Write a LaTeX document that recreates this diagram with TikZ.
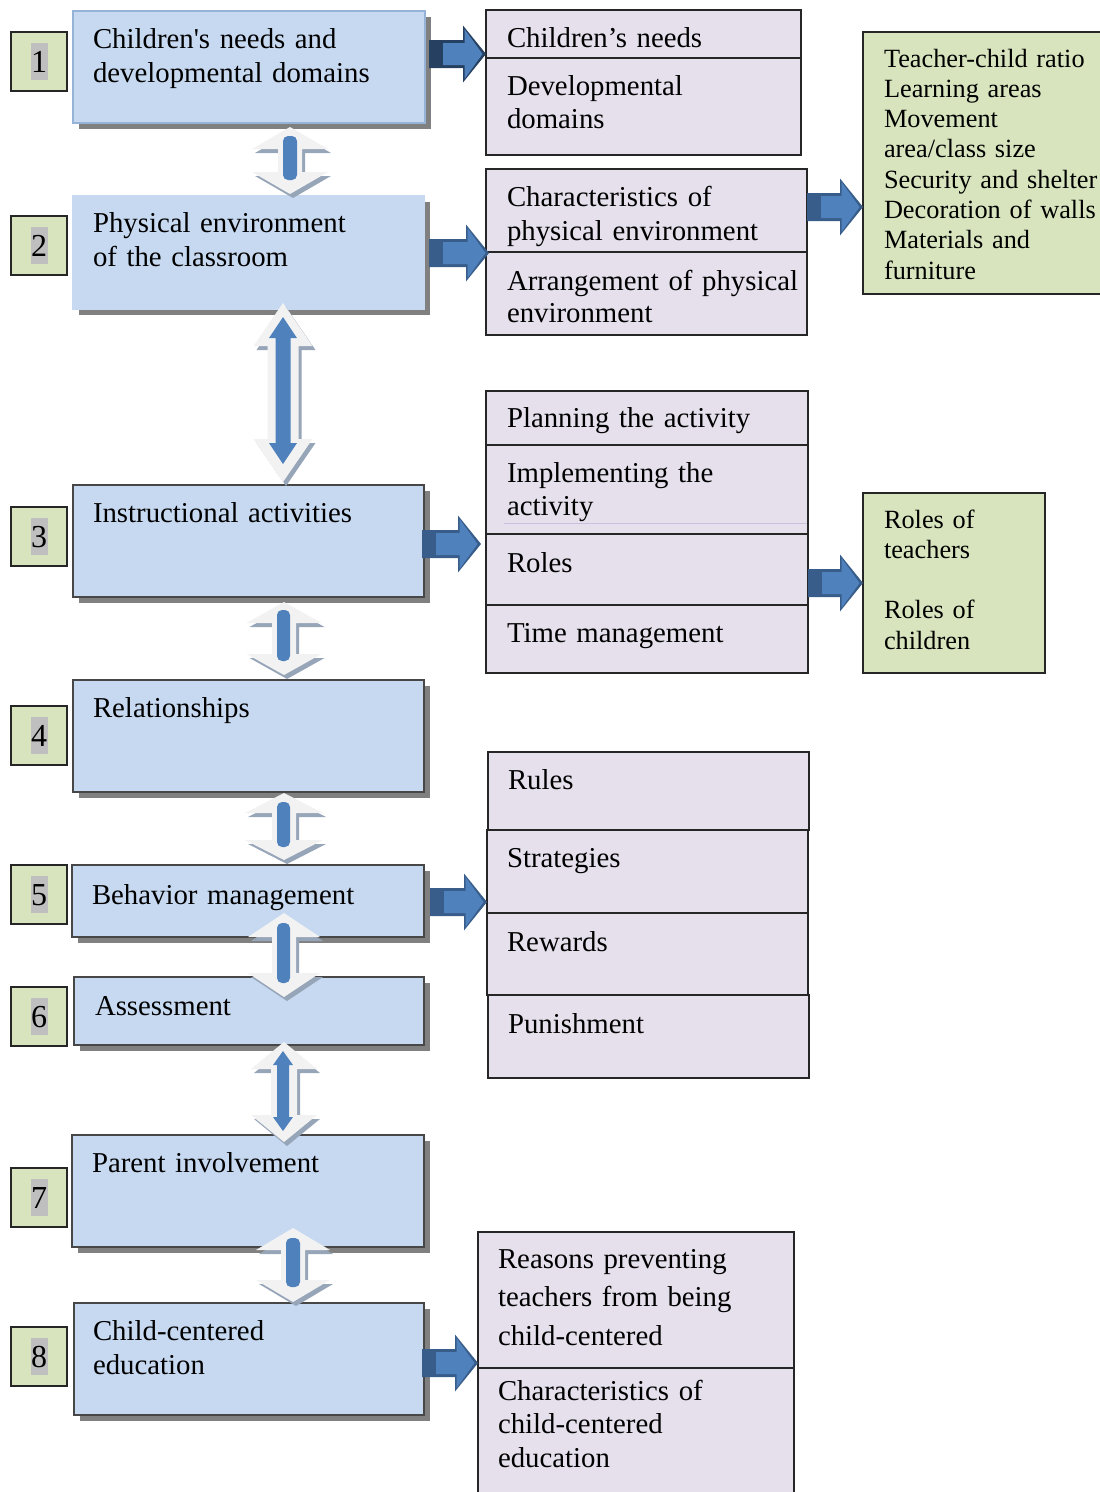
\documentclass[tikz,border=0pt]{standalone}
\usepackage{fontspec}
\setmainfont{Liberation Serif}
\usetikzlibrary{calc}
\definecolor{bluebox}{HTML}{C6D9F1}
\definecolor{blueedge}{HTML}{95B3D7}
\definecolor{shadowgray}{HTML}{808080}
\definecolor{greenbox}{HTML}{D7E4BD}
\definecolor{purplebox}{HTML}{E5E0EC}
\definecolor{digitbg}{HTML}{BFBFBF}
\definecolor{arrowblue}{HTML}{4F81BD}
\definecolor{arrowdark}{HTML}{385D8A}
\definecolor{arrowdarker}{HTML}{254061}
\definecolor{varrowfill}{HTML}{F2F2F2}
\definecolor{varrowshadow}{HTML}{97A5B8}
\definecolor{edgedark}{HTML}{262626}
\definecolor{faintline}{HTML}{C8C0DC}

\newcommand\mainbox[6][]{%
  \fill[shadowgray] ({#3+6},{#4+6}) rectangle ++(#5,#6);
  \node[mainboxst,#1,minimum width=#5pt,minimum height=#6pt] (#2) at (#3,#4) {};
}
\newcommand\numbox[3]{%
  \node[numboxst] (n#1) at (11,#2) {};
  \node[digitst] (d#1) at ($(n#1.center)+(0,10.5)$) {#3};
}
\newcommand\cell[7][purplebox]{%
  \node[cellst,fill=#1,minimum width=#5pt,minimum height=#6pt] (#2) at (#3,#4) {};
}
% vertical double arrow path: cx, top, bottom, head half width, head length, shaft half width
\newcommand\vdpath[6]{({#1},{#2}) -- ({#1+#4},{#2+#5}) -- ({#1+#6},{#2+#5}) -- ({#1+#6},{#3-#5}) -- ({#1+#4},{#3-#5}) -- ({#1},{#3}) -- ({#1-#4},{#3-#5}) -- ({#1-#6},{#3-#5}) -- ({#1-#6},{#2+#5}) -- ({#1-#4},{#2+#5}) -- cycle}
\newcommand\vdarrow[6]{%
  \fill[varrowshadow,shift={(3,4)}] \vdpath{#1}{#2}{#3}{#4}{#5}{#6};
  \fill[varrowfill] \vdpath{#1}{#2}{#3}{#4}{#5}{#6};
}
% fat right arrow: start coord, end coord, y (px), start offset, end offset, dark colour
\newcommand\fatarrow[6]{%
  \fill[#6] let \p1=#1, \p2=#2 in
    ({\x1+(#4)*1pt},{-#3pt+14pt}) -- ({\x2+(#5)*1pt-23pt},{-#3pt+14pt}) --
    ({\x2+(#5)*1pt-23pt},{-#3pt+28.5pt}) -- ({\x2+(#5)*1pt},{-#3pt}) --
    ({\x2+(#5)*1pt-23pt},{-#3pt-28.5pt}) -- ({\x2+(#5)*1pt-23pt},{-#3pt-14pt}) --
    ({\x1+(#4)*1pt},{-#3pt-14pt}) -- cycle;
  \fill[arrowblue] let \p1=#1, \p2=#2 in
    ({\x1+(#4)*1pt+14pt},{-#3pt+11pt}) -- ({\x2+(#5)*1pt-21.5pt},{-#3pt+11pt}) --
    ({\x2+(#5)*1pt-21.5pt},{-#3pt+25pt}) -- ({\x2+(#5)*1pt-3.5pt},{-#3pt}) --
    ({\x2+(#5)*1pt-21.5pt},{-#3pt-25pt}) -- ({\x2+(#5)*1pt-21.5pt},{-#3pt-11pt}) --
    ({\x1+(#4)*1pt+14pt},{-#3pt-11pt}) -- cycle;
}

\begin{document}
\begin{tikzpicture}[x=1pt,y=-1pt,
  mainboxst/.style={draw=edgedark!85,line width=1.3pt,fill=bluebox,anchor=north west,inner sep=0pt,outer sep=0pt},
  numboxst/.style={draw=edgedark,line width=1.5pt,fill=greenbox,anchor=north west,inner sep=0pt,outer sep=0pt,minimum width=56pt,minimum height=59pt},
  digitst/.style={anchor=base,fill=digitbg,inner xsep=0.5pt,inner ysep=0pt,text height=29pt,text depth=8pt,font=\fontsize{32}{36}\selectfont},
  cellst/.style={draw=edgedark,line width=1.5pt,anchor=north west,inner sep=0pt,outer sep=0pt},
  txt/.style={anchor=base west,inner sep=0pt,outer sep=0pt,text width=340pt,align=left,font=\fontsize{28.8}{34}\selectfont},
  gtxt/.style={anchor=base west,inner sep=0pt,outer sep=0pt,text width=240pt,align=left,font=\fontsize{26.3}{30.3}\selectfont}
]
\useasboundingbox (0,0) rectangle (1100,1492);

% ---- left column boxes
\mainbox[draw=blueedge]{b1}{73}{11}{352}{112}
\mainbox[draw=bluebox]{b2}{73}{196}{351}{113}
\mainbox{b3}{73}{485}{351}{112}
\mainbox{b4}{73}{680}{351}{112}
\mainbox{b5}{72}{865}{352}{72}
\mainbox{b6}{74}{977}{350}{68}
\mainbox{b7}{72}{1135}{352}{112}
\mainbox{b8}{74}{1303}{350}{112}

\node[txt] (t1) at (93,48) {Children\textquotesingle s needs and\\developmental domains};
\node[txt] (t2) at (93,232) {Physical environment\\of the classroom};
\node[txt] (t3) at (93,522) {Instructional activities};
\node[txt] (t4) at (93,717) {Relationships};
\node[txt] (t5) at (92,904) {Behavior management};
\node[txt] (t6) at (95,1015) {Assessment};
\node[txt] (t7) at (92,1172) {Parent involvement};
\node[txt] (t8) at (93,1340) {Child-centered\\education};

% ---- number boxes
\numbox{1}{32}{1}
\numbox{2}{216}{2}
\numbox{3}{507}{3}
\numbox{4}{706}{4}
\numbox{5}{865}{5}
\numbox{6}{987}{6}
\numbox{7}{1168}{7}
\numbox{8}{1327}{8}

% ---- right column cells
\cell{c1a}{486}{10}{315}{48}{}
\cell{c1b}{486}{58}{315}{97}{}
\cell{c2a}{486}{169}{321}{83}{}
\cell{c2b}{486}{252}{321}{83}{}
\cell{c3a}{486}{391}{322}{54}{}
\cell{c3b}{486}{445}{322}{89}{}
\cell{c3c}{486}{534}{322}{71}{}
\cell{c3d}{486}{605}{322}{68}{}
\cell{c5a}{488}{752}{321}{78}{}
\cell{c5b}{487}{830}{321}{83}{}
\cell{c5c}{487}{913}{321}{82}{}
\cell{c5d}{488}{995}{321}{83}{}
\cell{c8a}{478}{1232}{316}{136}{}
\cell{c8b}{478}{1368}{316}{132}{}
\cell[greenbox]{g1}{863}{32}{245}{262}{}
\cell[greenbox]{g2}{863}{493}{182}{180}{}

\draw[faintline,line width=0.8pt] (504,523) -- (807,523);

\node[txt] (r1a) at (507,47) {Children’s needs};
\node[txt,font=\fontsize{28.8}{33}\selectfont] (r1b) at (507,95) {Developmental\\domains};
\node[txt] (r2a) at (507,206) {Characteristics of\\physical environment};
\node[txt,font=\fontsize{28.8}{32.5}\selectfont] (r2b) at (507,290) {Arrangement of physical\\environment};
\node[txt] (r3a) at (507,427) {Planning the activity};
\node[txt,font=\fontsize{28.8}{33}\selectfont] (r3b) at (507,482) {Implementing the\\activity};
\node[txt] (r3c) at (507,572) {Roles};
\node[txt] (r3d) at (507,642) {Time management};
\node[txt] (r5a) at (508,789) {Rules};
\node[txt] (r5b) at (507,867) {Strategies};
\node[txt] (r5c) at (507,951) {Rewards};
\node[txt] (r5d) at (508,1033) {Punishment};
\node[txt,font=\fontsize{28.8}{38.5}\selectfont] (r8a) at (498,1268) {Reasons preventing\\teachers from being\\child-centered};
\node[txt,font=\fontsize{28.8}{33.5}\selectfont] (r8b) at (498,1400) {Characteristics of\\child-centered\\education};

\node[gtxt] (gt1) at (884,67) {Teacher-child ratio\\Learning areas\\Movement\\area/class size\\Security and shelter\\Decoration of walls\\Materials and\\furniture};
\node[gtxt] (gt2) at (884,528) {Roles of\\teachers\\[30.3pt]Roles of\\children};

% ---- vertical double arrows
\vdarrow{290}{127}{194}{38}{22}{12}
\fill[arrowblue,rounded corners=5pt] (283,136) rectangle (297,180);

\vdarrow{283}{303}{482}{29.5}{43}{15.5}
\fill[arrowblue] \vdpath{283}{317}{464}{14}{21}{7.5};

\vdarrow{284}{602}{675}{37.5}{21}{12}
\fill[arrowblue,rounded corners=5pt] (277,610) rectangle (290,661);

\vdarrow{284}{793}{860}{39}{20}{12}
\fill[arrowblue,rounded corners=5pt] (277,802) rectangle (290,847);

\vdarrow{284}{913}{997}{36}{24}{12}
\fill[arrowblue,rounded corners=5pt] (277,923) rectangle (290,983);

\vdarrow{284}{1042}{1142}{33}{27}{13}
\fill[arrowblue] \vdpath{283}{1051}{1131}{10}{14}{6};

\vdarrow{293}{1228}{1302}{37}{22}{12}
\fill[arrowblue,rounded corners=5pt] (286,1238) rectangle (300,1287);

% ---- fat right arrows
\fatarrow{(b1.east)}{(c1a.west)}{54}{4}{0}{arrowdarker}
\fatarrow{(b2.east)}{(c2b.west)}{253}{5}{3}{arrowdark}
\fatarrow{(c2a.east)}{(g1.west)}{207}{0}{0}{arrowdark}
\fatarrow{(b3.east)}{(c3c.west)}{544}{-2}{-5}{arrowdark}
\fatarrow{(c3c.east)}{(g2.west)}{583}{0}{0}{arrowdark}
\fatarrow{(b5.east)}{(c5b.west)}{902}{6}{0}{arrowdark}
\fatarrow{(b8.east)}{(c8a.west)}{1363}{-2}{0}{arrowdark}
\end{tikzpicture}
\end{document}
